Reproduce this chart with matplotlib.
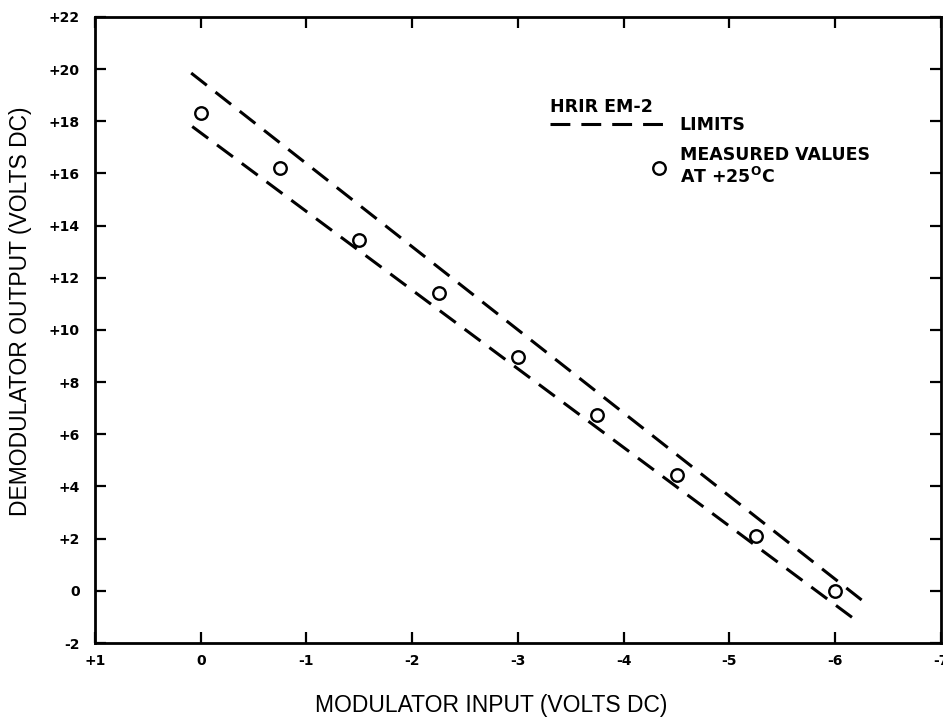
import matplotlib
matplotlib.use("Agg")
import numpy as np
from matplotlib import pyplot as plt
from matplotlib.legend_handler import HandlerLine2D
from matplotlib.ticker import FixedLocator, FixedFormatter

plt.rcParams["font.family"] = ["Liberation Sans", "DejaVu Sans"]
plt.rcParams["mathtext.fontset"] = "custom"
plt.rcParams["mathtext.rm"] = "DejaVu Sans"
plt.rcParams["mathtext.bf"] = "DejaVu Sans:bold"

# measured demodulator output vs modulator input at +25 C
mod_in = [0.0, -0.75, -1.5, -2.25, -3.0, -3.75, -4.5, -5.25, -6.0]
demod_out = [18.3, 16.2, 13.45, 11.4, 8.95, 6.75, 4.45, 2.1, 0.0]

# limit lines (end points)
upper_x = [0.09, -6.25]
upper_y = [19.85, -0.35]
lower_x = [0.08, -6.22]
lower_y = [17.8, -1.2]

x_ticks = [1, 0, -1, -2, -3, -4, -5, -6, -7]
x_labels = ["+1", "0", "-1", "-2", "-3", "-4", "-5", "-6", "-7"]
y_ticks = [-2, 0, 2, 4, 6, 8, 10, 12, 14, 16, 18, 20, 22]
y_labels = ["-2", "0", "+2", "+4", "+6", "+8", "+10", "+12", "+14",
            "+16", "+18", "+20", "+22"]

bold = dict(family="DejaVu Sans", weight="bold")


class MarkerAtEnd(HandlerLine2D):
    # single legend marker sits at the right end of the handle
    def create_artists(self, legend, orig_handle, xdescent, ydescent,
                       width, height, fontsize, trans):
        arts = super().create_artists(legend, orig_handle, xdescent, ydescent,
                                      width, height, fontsize, trans)
        for a in arts:
            a.set_xdata(np.full(3, -xdescent + width - 0.35 * fontsize))
        return arts


fig = plt.figure(figsize=(9.43, 7.19), dpi=100)
ax = fig.add_axes([0.1007, 0.1057, 0.8971, 0.8707])

dash = dict(color="black", lw=2.2, dashes=(6.5, 3.6))
limits, = ax.plot(upper_x, upper_y, label="LIMITS", **dash)
ax.plot(lower_x, lower_y, **dash)
meas, = ax.plot(mod_in, demod_out, ls="none", marker="o", ms=9, mfc="white",
                mec="black", mew=1.7,
                label="MEASURED VALUES\nAT +25$^{\\mathbf{O}}$C")

ax.set_xlim(1, -7)
ax.set_ylim(-2, 22)
ax.xaxis.set_major_locator(FixedLocator(x_ticks))
ax.xaxis.set_major_formatter(FixedFormatter(x_labels))
ax.yaxis.set_major_locator(FixedLocator(y_ticks))
ax.yaxis.set_major_formatter(FixedFormatter(y_labels))

ax.tick_params(direction="in", length=8, width=1.6, top=True, right=True,
               labelsize=10)
ax.tick_params(axis="x", pad=8)
ax.tick_params(axis="y", pad=11)
for lab in ax.get_xticklabels() + ax.get_yticklabels():
    lab.set_fontproperties(dict(bold, size=10))
for sp in ax.spines.values():
    sp.set_linewidth(2.0)

ax.set_xlabel("MODULATOR INPUT (VOLTS DC)", fontsize=16.5)
ax.set_ylabel("DEMODULATOR OUTPUT (VOLTS DC)", fontsize=16.5)
ax.xaxis.set_label_coords(0.468, -0.081)
ax.yaxis.set_label_coords(-0.0745, 0.53)

ax.text(0.538, 0.871, "HRIR EM-2", transform=ax.transAxes, fontsize=12.5,
        fontfamily="DejaVu Sans", fontweight="bold", va="top", ha="left")
ax.legend(handles=[limits, meas], loc="upper left",
          bbox_to_anchor=(0.538, 0.842), borderaxespad=0, borderpad=0,
          frameon=False, handlelength=6.6, handletextpad=0.86,
          labelspacing=0.7, prop=dict(bold, size=12.5),
          handler_map={meas: MarkerAtEnd(numpoints=1)})

fig.savefig("out.png", dpi=100)
